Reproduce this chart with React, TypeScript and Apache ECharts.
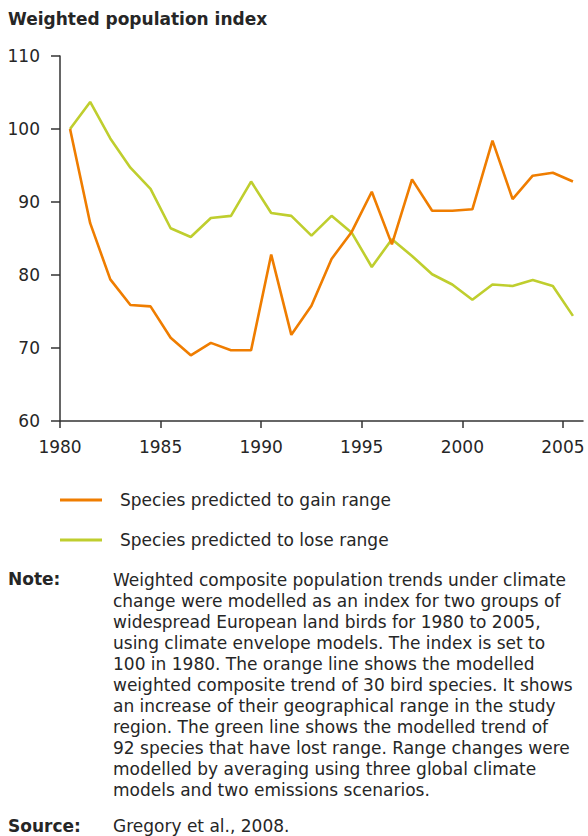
import React, { useEffect, useRef } from "react";
import * as echarts from "echarts";

const years = [
  1980, 1981, 1982, 1983, 1984, 1985, 1986, 1987, 1988, 1989, 1990, 1991, 1992,
  1993, 1994, 1995, 1996, 1997, 1998, 1999, 2000, 2001, 2002, 2003, 2004, 2005,
];
const gainRange = [
  100, 87.1, 79.4, 75.9, 75.7, 71.4, 69.0, 70.7, 69.7, 69.7, 82.8, 71.8, 75.8,
  82.2, 85.9, 91.4, 84.2, 93.1, 88.8, 88.8, 89.0, 98.4, 90.4, 93.6, 94.0, 92.8,
];
const loseRange = [
  100, 103.7, 98.7, 94.7, 91.8, 86.4, 85.2, 87.8, 88.1, 92.8, 88.5, 88.1, 85.4,
  88.1, 85.8, 81.1, 84.9, 82.6, 80.1, 78.7, 76.6, 78.7, 78.5, 79.3, 78.5, 74.4,
];
const xTickLabels = [1980, 1985, 1990, 1995, 2000, 2005];
const seriesNames = ["Species predicted to gain range", "Species predicted to lose range"];
const titleText = "Weighted population index";
const noteLines = [
  "Weighted composite population trends under climate",
  "change were modelled as an index for two groups of",
  "widespread European land birds for 1980 to 2005,",
  "using climate envelope models. The index is set to",
  "100 in 1980. The orange line shows the modelled",
  "weighted composite trend of 30 bird species. It shows",
  "an increase of their geographical range in the study",
  "region. The green line shows the modelled trend of",
  "92 species that have lost range. Range changes were",
  "modelled by averaging using three global climate",
  "models and two emissions scenarios.",
];
const sourceText = "Gregory et al., 2008.";

const ORANGE = "#EF7D00";
const GREEN = "#BFCE2E";
const TEXT = "#262626";
const FONT = "DejaVu Sans";
const FS = 17;

export default function App() {
  const ref = useRef<HTMLDivElement>(null);
  useEffect(() => {
    document.body.style.margin = "0";
    if (!ref.current) return;
    const chart = echarts.init(ref.current, undefined, { renderer: "svg" });
    chart.setOption({
      animation: false,
      textStyle: { fontFamily: FONT, color: TEXT },
      grid: { left: 60, right: 5, top: 56, bottom: 415, containLabel: false },
      xAxis: [
        {
          type: "category",
          data: years.map(String),
          boundaryGap: true,
          show: false,
        },
        {
          type: "value",
          min: 1980,
          max: 2006,
          interval: 5,
          position: "bottom",
          splitLine: { show: false },
          axisLine: { show: true, lineStyle: { color: "#333", width: 1.5 } },
          axisTick: {
            show: true,
            length: 7,
            lineStyle: { color: "#333", width: 1.5 },
            customValues: xTickLabels,
          },
          axisLabel: {
            customValues: xTickLabels,
            fontSize: FS,
            fontFamily: FONT,
            color: TEXT,
            margin: 17,
            formatter: (v: number) => String(v),
          },
        },
      ],
      yAxis: {
        type: "value",
        min: 60,
        max: 110,
        interval: 10,
        splitLine: { show: false },
        axisLine: { show: true, lineStyle: { color: "#333", width: 1.5 } },
        axisTick: { show: true, length: 9, lineStyle: { color: "#333", width: 1.5 } },
        axisLabel: { fontSize: FS, fontFamily: FONT, color: TEXT, margin: 20 },
      },
      legend: {
        orient: "vertical",
        left: 60,
        top: 490,
        padding: 0,
        itemWidth: 42,
        itemHeight: 3,
        itemGap: 20,
        icon: "rect",
        textStyle: {
          fontSize: FS,
          fontFamily: FONT,
          color: TEXT,
          lineHeight: 20,
          padding: [0, 0, 0, 13],
        },
        data: seriesNames,
      },
      series: [
        {
          name: seriesNames[0],
          type: "line",
          xAxisIndex: 0,
          data: gainRange,
          symbol: "none",
          lineStyle: { color: ORANGE, width: 2.6 },
          itemStyle: { color: ORANGE },
        },
        {
          name: seriesNames[1],
          type: "line",
          xAxisIndex: 0,
          data: loseRange,
          symbol: "none",
          lineStyle: { color: GREEN, width: 2.6 },
          itemStyle: { color: GREEN },
          z: 1,
        },
      ],
      graphic: [
        {
          type: "text",
          left: 8,
          top: 10,
          style: { text: titleText, fontSize: FS, fontWeight: "bold", fontFamily: FONT, fill: TEXT },
        },
        {
          type: "text",
          left: 8,
          top: 570,
          style: { text: "Note:", fontSize: FS, fontWeight: "bold", fontFamily: FONT, fill: TEXT },
        },
        {
          type: "text",
          left: 113,
          top: 569,
          style: {
            text: noteLines.join("\n"),
            fontSize: FS,
            lineHeight: 21,
            fontFamily: FONT,
            fill: TEXT,
          },
        },
        {
          type: "text",
          left: 8,
          top: 817,
          style: { text: "Source:", fontSize: FS, fontWeight: "bold", fontFamily: FONT, fill: TEXT },
        },
        {
          type: "text",
          left: 113,
          top: 817,
          style: { text: sourceText, fontSize: FS, fontFamily: FONT, fill: TEXT },
        },
      ],
    });
    return () => chart.dispose();
  }, []);
  return <div ref={ref} style={{ width: 588, height: 836 }} />;
}
